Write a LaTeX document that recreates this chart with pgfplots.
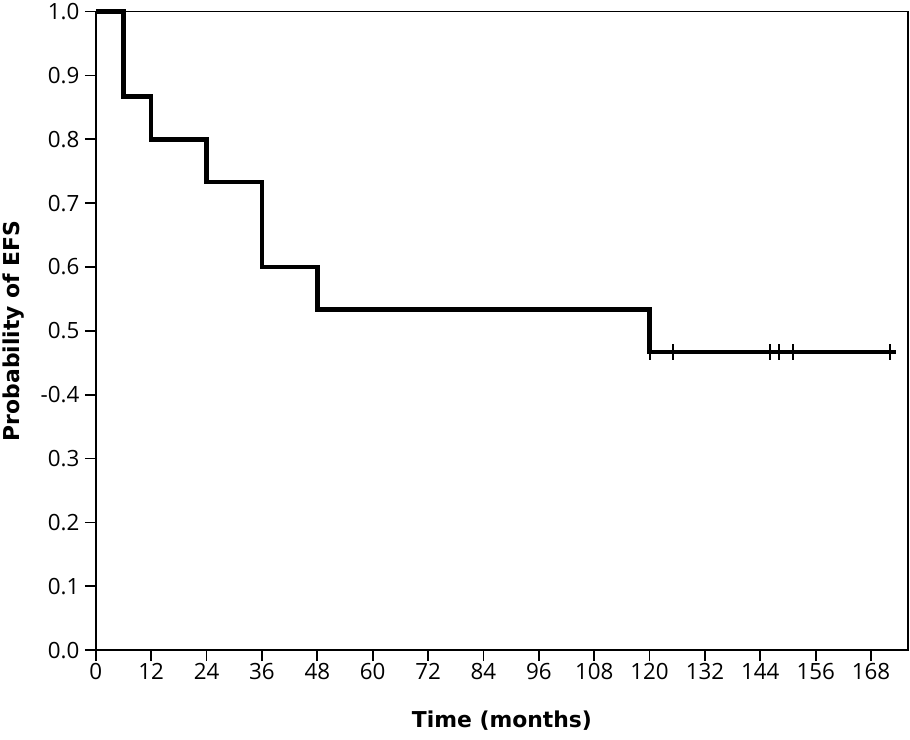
\documentclass[border=0pt]{standalone}
\usepackage{pgfplots}
\pgfplotsset{compat=1.18}
\usepackage{fontspec}
\setmainfont{Open Sans}
\newfontfamily\labelfont{DejaVu Sans}
\begin{document}
\begin{tikzpicture}
\begin{axis}[
  at={(0,0)}, anchor=south west,
  width=814bp, height=640bp, scale only axis,
  xmin=0, xmax=176, ymin=0, ymax=1,
  xtick={0,12,...,168},
  ytick={0,0.1,...,1.0},
  yticklabels={0.0,0.1,0.2,0.3,-0.4,0.5,0.6,0.7,0.8,0.9,1.0},
  xtick pos=left, ytick pos=left,
  tick align=outside,
  major tick length=11bp,
  axis line style={line width=1.8bp},
  every tick/.style={line width=1.8bp, black},
  /pgf/number format/assume math mode=true,
  tick label style={font=\fontsize{22.5}{26}\selectfont},
  xticklabel style={yshift=1bp},
  yticklabel style={xshift=-2bp},
  xlabel={Time (months)},
  ylabel={Probability of EFS},
  label style={font=\fontsize{22}{26}\selectfont\labelfont\bfseries},
  xlabel style={at={(rel axis cs:0.5,0)}, anchor=center, yshift=-71bp},
  ylabel style={at={(rel axis cs:0,0.5)}, anchor=center, yshift=82bp},
  clip=false,
]
\addplot[const plot, line width=4.5bp, black] coordinates {
  (0,1) (6,0.866667) (12,0.8) (24,0.733333) (36,0.6) (48,0.533333) (120,0.466667) (173.5,0.466667)
};
\addplot[only marks, mark=|, mark size=8bp, mark options={line width=2bp, black}] coordinates {
  (120,0.466667) (125,0.466667) (146.2,0.466667) (148,0.466667) (151,0.466667) (172,0.466667)
};
\end{axis}
\path[use as bounding box] (-94bp,-90bp) rectangle (816bp,651bp);
\end{tikzpicture}
\end{document}
